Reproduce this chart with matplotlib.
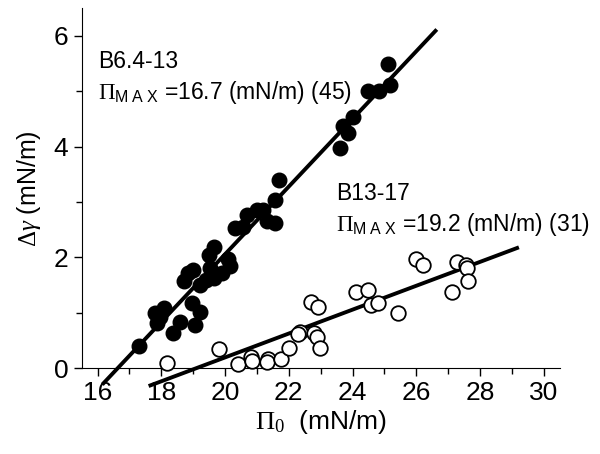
import matplotlib
matplotlib.use("Agg")
from matplotlib import pyplot as plt
import numpy as np

plt.rcParams['font.family'] = ['Liberation Sans', 'DejaVu Sans']
plt.rcParams['mathtext.fontset'] = 'custom'
plt.rcParams['mathtext.rm'] = 'Liberation Serif'
plt.rcParams['mathtext.it'] = 'Liberation Serif:italic'
plt.rcParams['mathtext.sf'] = 'Liberation Sans'

# B6.4-13 (filled)
pi0_b6 = [17.29, 17.8, 17.86, 18.1, 17.95, 18.38, 18.6, 19.06, 18.96, 19.22,
          18.7, 19.2, 18.85, 18.99, 19.53, 19.64, 19.4, 19.5, 19.64, 20.1,
          20.16, 19.9, 20.3, 20.55, 20.68, 20.99, 21.2, 21.3, 21.56, 21.56,
          21.69, 23.6, 23.7, 23.85, 24.0, 24.48, 24.84, 25.16, 25.1]
dg_b6 = [0.40, 0.99, 0.81, 1.08, 0.92, 0.64, 0.84, 0.78, 1.17, 1.02,
         1.57, 1.50, 1.71, 1.77, 1.80, 1.62, 1.60, 2.04, 2.19, 1.98,
         1.84, 1.72, 2.54, 2.55, 2.77, 2.86, 2.86, 2.65, 2.63, 3.03,
         3.39, 3.98, 4.38, 4.25, 4.53, 5.01, 5.01, 5.12, 5.49]

# B13-17 (open)
pi0_b13 = [18.18, 19.8, 20.42, 20.81, 20.85, 21.35, 21.3, 21.77, 22.0, 22.34,
           22.3, 22.7, 22.9, 22.8, 22.87, 22.99, 24.11, 24.48, 24.58, 24.8,
           25.42, 25.99, 26.22, 27.11, 27.26, 27.55, 27.6, 27.63]
dg_b13 = [0.10, 0.35, 0.07, 0.20, 0.13, 0.17, 0.11, 0.17, 0.37, 0.66,
          0.61, 1.20, 1.11, 0.64, 0.57, 0.37, 1.38, 1.41, 1.14, 1.18,
          0.99, 1.98, 1.86, 1.38, 1.91, 1.86, 1.80, 1.57]

# fit lines (end points)
fit_b6_x = [16.19, 26.6]
fit_b6_y = [-0.27, 6.09]
fit_b13_x = [17.66, 29.16]
fit_b13_y = [-0.31, 2.17]

fig = plt.figure(figsize=(6, 4.54), dpi=100)
ax = fig.add_axes([0.136, 0.189, 0.797, 0.793])

ax.plot(fit_b6_x, fit_b6_y, color='black', lw=2.8, clip_on=False, zorder=2)
ax.plot(fit_b13_x, fit_b13_y, color='black', lw=2.8, clip_on=False, zorder=2)
ax.scatter(pi0_b6, dg_b6, s=110, color='black', zorder=3, clip_on=False)
ax.scatter(pi0_b13, dg_b13, s=110, facecolor='white', edgecolor='black',
           linewidths=1.3, zorder=3, clip_on=False)

ax.set_xlim(15.5, 30.5)
ax.set_ylim(0, 6.5)
ax.set_xticks(np.arange(16, 31, 2))
ax.set_xticks(np.arange(17, 31, 2), minor=True)
ax.set_yticks([0, 2, 4, 6])
ax.set_yticks([1, 3, 5], minor=True)
for s in ['top', 'right']:
    ax.spines[s].set_visible(False)
ax.tick_params(which='major', direction='out', length=6, width=1, labelsize=19)
ax.tick_params(which='minor', direction='out', length=4, width=1)

ax.set_xlabel(r'$\Pi_0$  (mN/m)', fontsize=19, labelpad=2)
ax.set_ylabel(r'$\Delta\gamma$ (mN/m)', fontsize=18, labelpad=8)

ax.text(16.03, 5.54, 'B6.4-13', fontsize=16.5, va='center')
ax.text(16.03, 4.97, r'$\Pi_{\mathsf{M\ A\ X}}$ =16.7 (mN/m) (45)', fontsize=16.5, va='center')
ax.text(23.49, 3.15, 'B13-17', fontsize=16.5, va='center')
ax.text(23.49, 2.6, r'$\Pi_{\mathsf{M\ A\ X}}$ =19.2 (mN/m) (31)', fontsize=16.5, va='center')

fig.savefig('out.png', dpi=100)
